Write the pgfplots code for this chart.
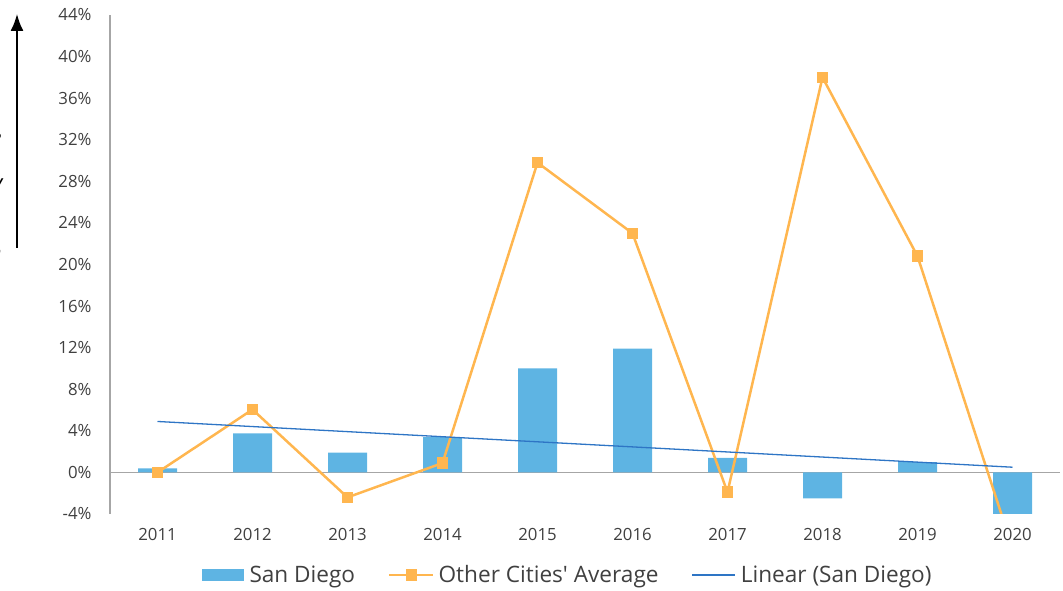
\documentclass[border=0pt]{standalone}
\usepackage{pgfplots}
\pgfplotsset{compat=1.18}
\usetikzlibrary{arrows.meta}
\usepackage{fontspec}
\setmainfont{Open Sans}
\definecolor{barblue}{RGB}{94,180,227}
\definecolor{lineorange}{RGB}{255,182,79}
\definecolor{trendblue}{RGB}{46,117,197}
\definecolor{tickgray}{RGB}{64,64,64}
\definecolor{axisgray}{RGB}{166,166,166}
\begin{document}
\begin{tikzpicture}[x=1pt,y=1pt]
\begin{axis}[
  at={(110pt,77pt)}, anchor=south west,
  scale only axis, width=950pt, height=499pt,
  xmin=-0.5, xmax=9.5, ymin=-4, ymax=44,
  xtick={0,1,2,3,4,5,6,7,8,9},
  xticklabels={2011,2012,2013,2014,2015,2016,2017,2018,2019,2020},
  ytick={-4,0,4,8,12,16,20,24,28,32,36,40,44},
  yticklabel={\pgfmathprintnumber{\tick}\%},
  /pgf/number format/assume math mode=true,
  major tick length=0pt,
  axis x line*=bottom, axis y line*=left,
  x axis line style={draw=none},
  y axis line style={draw=axisgray, line width=1.2pt, -},
  tick label style={font=\fontsize{16.8}{18}\selectfont, text=tickgray},
  xticklabel style={yshift=-11pt},
  yticklabel style={xshift=-15pt},
  legend columns=3,
  legend style={draw=none, fill=none, at={(0.4816,-0.122)}, anchor=center,
    font=\fontsize{22.6}{24}\selectfont, text=tickgray,
    /tikz/every even column/.append style={column sep=31pt},
    inner sep=0pt},
  clip=true,
]
\draw[axisgray, line width=1.2pt] (axis cs:-0.5,0) -- (axis cs:9.5,0);
\addplot[ybar, bar width=39pt, bar shift=0pt, fill=barblue, draw=none,
  legend image code/.code={\fill[barblue] (0pt,-6pt) rectangle (42pt,6pt); \path (46pt,0pt);}]
  coordinates {(0,0.4) (1,3.75) (2,1.9) (3,3.4) (4,10.0) (5,11.9) (6,1.4) (7,-2.5) (8,1.0) (9,-4.0)};
\addlegendentry{San Diego}
\addplot[color=lineorange, line width=2.5pt, mark=square*, mark size=4.5pt,
  mark options={fill=lineorange, draw=none},
  legend image code/.code={\draw[lineorange, line width=2.5pt] (0pt,0pt) -- (44pt,0pt);
     \fill[lineorange] (17.5pt,-4.5pt) rectangle (26.5pt,4.5pt); \path (46pt,0pt);}]
  coordinates {(0,0.0) (1,6.05) (2,-2.4) (3,0.9) (4,29.8) (5,23.0) (6,-1.9) (7,38.0) (8,20.8) (9,-7.3)};
\addlegendentry{Other Cities\textquotesingle\ Average}
\addplot[color=trendblue, line width=1.3pt,
  legend image code/.code={\draw[trendblue, line width=1.3pt] (0pt,0pt) -- (43pt,0pt); \path (46pt,0pt);}]
  coordinates {(0,4.9) (9,0.5)};
\addlegendentry{Linear (San Diego)}
\end{axis}
% cropped left annotation
\draw[line width=1.8pt, -{Latex[length=17pt,width=13pt]}] (17,343) -- (17,577);
\node[anchor=east, font=\fontsize{22}{24}\selectfont\itshape] at (5,451) {e};
\node[anchor=east, font=\fontsize{22}{24}\selectfont\itshape] at (6,404) {y};
\node[anchor=east, font=\fontsize{22}{24}\selectfont\itshape] at (5,337) {n};
\pgfresetboundingbox
\useasboundingbox (0,0) rectangle (1063,591);
\end{tikzpicture}
\end{document}
